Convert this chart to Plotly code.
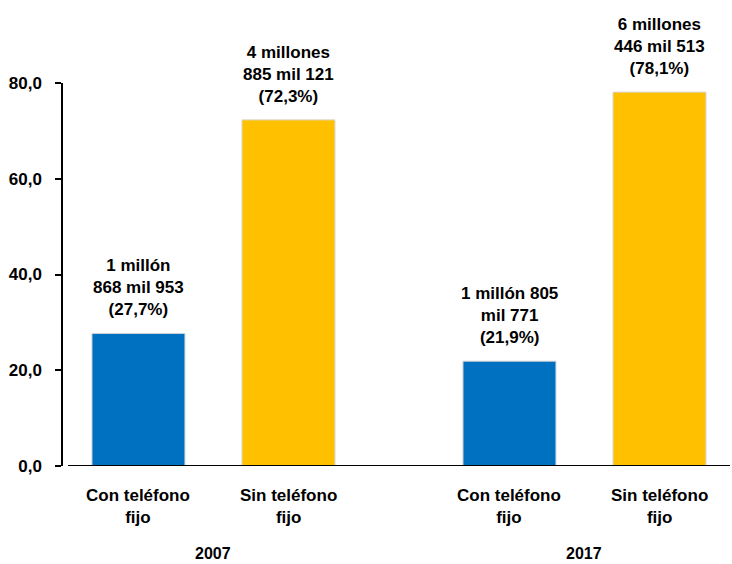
import plotly.graph_objects as go

categories = ["Con teléfono<br>fijo", "Sin teléfono<br>fijo", "Con teléfono<br>fijo", "Sin teléfono<br>fijo"]
years = ["2007", "2017"]
values = [27.7, 72.3, 21.9, 78.1]
labels = ["1 millón<br>868 mil 953<br>(27,7%)",
          "4 millones<br>885 mil 121<br>(72,3%)",
          "1 millón 805<br>mil 771<br>(21,9%)",
          "6 millones<br>446 mil 513<br>(78,1%)"]
colors = ["#0070C0", "#FFC000", "#0070C0", "#FFC000"]
tick_vals = [0, 20, 40, 60, 80]
tick_text = ["0,0", "20,0", "40,0", "60,0", "80,0"]

xpos = [0, 1, 2.473, 3.473]
FONT = "Liberation Sans, Arial, sans-serif"

fig = go.Figure()
fig.add_trace(go.Bar(
    x=xpos, y=values, width=0.62,
    marker=dict(color=colors, line=dict(color="#d9d9d9", width=1)),
    hoverinfo="skip",
))

for x, v, t in zip(xpos, values, labels):
    fig.add_annotation(x=x, y=v, text="<b>" + t + "</b>", showarrow=False,
                       yanchor="bottom", yshift=12,
                       font=dict(family=FONT, size=17, color="#000"))
for x, c in zip(xpos, categories):
    fig.add_annotation(x=x, y=0, text="<b>" + c + "</b>", showarrow=False,
                       yanchor="top", yshift=-18,
                       font=dict(family=FONT, size=17, color="#000"))
for i, yr in enumerate(years):
    xc = (xpos[2 * i] + xpos[2 * i + 1]) / 2
    fig.add_annotation(x=xc, y=0, text="<b>" + yr + "</b>", showarrow=False,
                       yanchor="top", yshift=-77,
                       font=dict(family=FONT, size=16, color="#000"))

fig.add_shape(type="line", xref="paper", yref="y", x0=0.0075, x1=1, y0=0, y1=0,
              line=dict(color="#000", width=2))

fig.update_layout(
    width=732, height=564,
    margin=dict(l=63, r=2, t=83, b=98),
    paper_bgcolor="white", plot_bgcolor="white",
    showlegend=False,
    xaxis=dict(range=[-0.503, 3.943], showticklabels=False, showgrid=False,
               zeroline=False, showline=False, ticks=""),
    yaxis=dict(range=[0, 80], tickvals=tick_vals, ticktext=tick_text,
               showgrid=False, zeroline=False, showline=True,
               linecolor="#000", linewidth=1.5, ticks="outside", ticklen=6,
               tickcolor="#000", tickwidth=1.5, ticklabelstandoff=10,
               tickfont=dict(family=FONT, size=17, color="#000", weight="bold")),
)

fig.write_html("out.html", config={"displayModeBar": False},
               post_script="document.body.style.margin='0';")
